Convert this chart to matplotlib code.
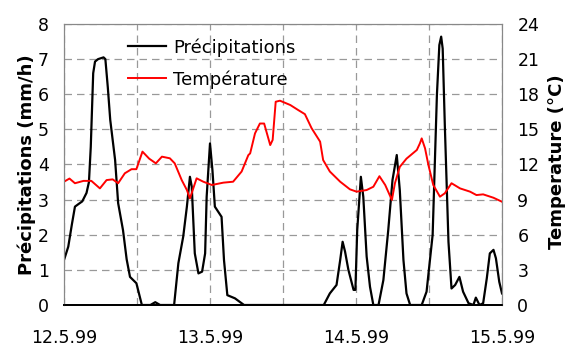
import matplotlib
matplotlib.use('Agg')
import matplotlib.pyplot as plt
from matplotlib.ticker import MultipleLocator

# heures depuis le 12.5.99 0h
heures_pluie = [0, 0.7, 1.3, 1.8, 2.35, 3.0, 3.7, 4.1, 4.4, 4.8, 5.1, 5.6, 6.5, 6.8, 7.2, 7.6,
                8.4, 8.9, 9.7, 10.3, 10.85, 11.9, 12.8, 14.2, 15, 15.8,
                18.1, 18.8, 19.6, 20.2, 20.7, 21.0, 21.5, 22.1, 22.7, 23.2, 23.45, 24.0,
                24.4, 24.8, 25.9, 26.3, 26.85, 28.1, 29.2, 29.6,
                42.7, 43.7, 44.8, 45.4, 45.8, 46.2, 46.75, 47.6, 47.9, 48.2, 48.8, 49.2,
                49.75, 50.3, 50.85, 51.7, 52.5, 53.3, 54.0, 54.7, 55.2, 55.8, 56.3, 56.9,
                58.8, 59.6, 60.6, 61.3, 61.7, 62.0, 62.25, 62.6, 63.2, 63.7, 64.3, 65.0,
                65.6, 66.5, 67.3, 67.7, 68.3, 68.9, 69.5, 70.0, 70.6, 71.0, 71.55, 72]
pluie = [1.28, 1.66, 2.3, 2.8, 2.87, 2.95, 3.19, 3.5, 4.5, 6.6, 6.93, 7.0, 7.05, 7.0, 6.2, 5.27,
         4.13, 2.9, 2.13, 1.3, 0.8, 0.62, 0, 0, 0.08, 0,
         0, 1.19, 1.95, 2.8, 3.65, 3.37, 1.47, 0.9, 0.95, 1.47, 3.08, 4.6,
         3.84, 2.8, 2.51, 1.28, 0.28, 0.19, 0.05, 0,
         0, 0.33, 0.57, 1.28, 1.8, 1.52, 1.0, 0.43, 0.43, 2.13, 3.65, 3.08,
         1.38, 0.52, 0, 0, 0.71, 2.13, 3.56, 4.27, 3.27, 1.28, 0.33, 0,
         0, 0.38, 2.0, 5.98, 7.4, 7.64, 7.3, 5.12, 1.8, 0.47, 0.57, 0.8,
         0.38, 0.05, 0, 0.21, 0, 0.05, 0.76, 1.47, 1.57, 1.33, 0.66, 0.33]

heures_temp = [0, 0.9, 1.8, 3.2, 4.5, 5.9, 7.0, 8.0, 8.9, 10.0, 11.1, 11.9, 12.9, 14,
               15.1, 16.1, 17.4, 18.2, 19.35, 20.2, 20.7, 21.25, 21.8, 22.9, 24.3, 26.2,
               27.8, 29.2, 30.3, 30.6, 31.4, 32.2, 32.9, 33.9, 34.3, 34.8, 35.5, 37.2,
               38.5, 39.6, 40.7, 41.8, 42.1, 42.6, 43.7, 45.4, 47.0, 48.1, 49.75, 50.85,
               51.85, 52.8, 53.9, 54.4, 55.2, 56.3, 58.0, 58.5, 58.8, 59.35, 59.9, 60.7,
               61.8, 62.6, 63.7, 65.1, 66.75, 67.8, 68.9, 70.6, 72]
temp = [10.53, 10.8, 10.4, 10.6, 10.6, 9.96, 10.67, 10.73, 10.4, 11.25, 11.6, 11.6, 13.1, 12.5,
        12.1, 12.67, 12.53, 12.1, 10.67, 9.82, 9.1, 9.96, 10.82, 10.53, 10.25, 10.45,
        10.53, 11.4, 12.8, 12.95, 14.66, 15.5, 15.5, 13.66, 14.1, 17.36, 17.45, 17.08,
        16.65, 16.3, 15.1, 14.2, 13.95, 12.38, 11.4, 10.53, 9.88, 9.68, 9.82, 10.1,
        11.0, 10.25, 8.97, 10.4, 11.8, 12.5, 13.24, 13.8, 14.23, 13.38, 11.96, 10.25,
        9.25, 9.54, 10.4, 9.96, 9.68, 9.39, 9.45, 9.16, 8.82]

dates = ['12.5.99', '13.5.99', '14.5.99', '15.5.99']

plt.rcParams['font.family'] = 'DejaVu Sans'

fig = plt.figure(figsize=(5.67, 3.48), dpi=100)
ax = fig.add_axes([64/567, 1-305/348, 438/567, 281/348])
ax2 = ax.twinx()

l1, = ax.plot(heures_pluie, pluie, color='black', lw=1.6, label='Précipitations')
l2, = ax2.plot(heures_temp, temp, color='red', lw=1.4, label='Température')

ax.set_xlim(0, 72)
ax.set_ylim(0, 8)
ax2.set_ylim(0, 24)
ax.set_xticks([0, 24, 48, 72])
ax.set_xticklabels(dates)
ax.xaxis.set_minor_locator(MultipleLocator(12))
ax.yaxis.set_major_locator(MultipleLocator(1))
ax2.yaxis.set_major_locator(MultipleLocator(3))

ax.grid(True, which='both', axis='x', color='#999999', ls=(0, (6, 4)), lw=0.9)
ax.grid(True, which='major', axis='y', color='#999999', ls=(0, (6, 4)), lw=0.9)

ax.tick_params(axis='x', which='both', length=0, pad=17, labelsize=12.5)
ax.tick_params(axis='y', length=0, pad=11, labelsize=12.5)
ax2.tick_params(axis='y', length=0, pad=11, labelsize=12.5)

for a in (ax, ax2):
    for s in ('top', 'right', 'left'):
        a.spines[s].set_color('#888888')
    a.spines['bottom'].set_color('black')
    a.spines['bottom'].set_linewidth(1.3)

ax.set_ylabel('Précipitations (mm/h)', fontsize=13, fontweight='bold')
ax2.set_ylabel('Temperature (°C)', fontsize=13, fontweight='bold')
ax.yaxis.set_label_coords(-0.064, 0.5)
ax2.yaxis.set_label_coords(1.105, 0.51)

ax.legend([l1, l2], ['Précipitations', 'Température'], loc='upper left',
          bbox_to_anchor=(0.146, 0.95), frameon=False, fontsize=13,
          borderpad=0, borderaxespad=0, handlelength=2.1, handletextpad=0.4,
          labelspacing=0.75)

fig.savefig('out.png', dpi=100)
